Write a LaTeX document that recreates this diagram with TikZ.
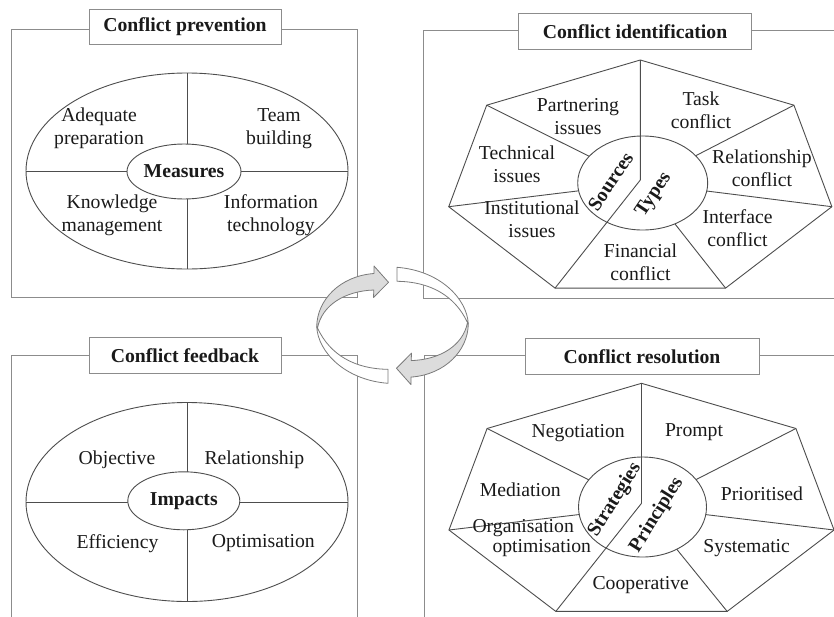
\documentclass[tikz,border=0pt]{standalone}
\usepackage{fontspec}
\setmainfont{Liberation Serif}
\usetikzlibrary{shapes.geometric}

\definecolor{ink}{HTML}{1A1A1A}
\definecolor{framecol}{HTML}{8C8C8C}
\definecolor{linecol}{HTML}{4D4D4D}
\definecolor{arrowedge}{HTML}{7A7A7A}
\definecolor{arrowfill}{HTML}{DCDCDC}
\newcommand{\panelfont}{\fontsize{19.7}{23}\selectfont}

\tikzset{
  panelframe/.style={draw=framecol, line width=1pt},
  titlebox/.style={draw=framecol, fill=white, line width=1pt, font=\panelfont\bfseries,
    text=ink, inner sep=0pt, minimum height=36pt},
  item/.style={font=\panelfont, align=center, text=ink, inner sep=0pt},
  hubtext/.style={font=\panelfont\bfseries, text=ink, inner sep=0pt},
  divider/.style={draw=linecol, line width=0.9pt},
  ring/.style={ellipse, draw=linecol, line width=0.9pt, inner sep=0pt, outer sep=0pt},
  hub/.style={ring, fill=white, font=\panelfont\bfseries, text=ink},
  loopwhite/.style={draw=arrowedge, fill=white, line width=0.8pt, line join=round},
  loopgray/.style={draw=arrowedge, fill=arrowfill, line width=0.8pt, line join=round},
}

\begin{document}
\begin{tikzpicture}[x=1pt, y=-1pt]
\useasboundingbox (0,0) rectangle (834,616);
\clip (0,0) rectangle (834,616);
\fill[white] (0,0) rectangle (834,616);

% ---------- Conflict prevention ----------
\draw[panelframe] (11.7,29) rectangle (357,297.5);
\node[titlebox, minimum width=192pt, minimum height=35pt] (prevTitle) at (185,26.7) {Conflict prevention};
\node[ring, minimum width=322pt, minimum height=196pt] (prevRing) at (187,171) {};
\draw[divider] (prevRing.north) -- (prevRing.south);
\draw[divider] (prevRing.west) -- (prevRing.east);
\node[hub, minimum width=112pt, minimum height=55pt] (measures) at (184,171.5) {Measures};
\node[item] (adequate) at (99,128.7) {Adequate\\preparation};
\node[item] (team) at (279,128.7) {Team\\building};
\node[item] (knowledge) at (112,215.3) {Knowledge\\management};
\node[item] (infotech) at (271,215.3) {Information\\technology};

% ---------- Conflict feedback ----------
\draw[panelframe] (11.7,355) rectangle (357.3,640);
\node[titlebox, minimum width=192pt] (feedTitle) at (185,355.3) {Conflict feedback};
\node[ring, minimum width=322pt, minimum height=199pt] (feedRing) at (187,502) {};
\draw[divider] (feedRing.north) -- (feedRing.south);
\draw[divider] (feedRing.west) -- (feedRing.east);
\node[hub, minimum width=112pt, minimum height=58pt] (impacts) at (183.8,500.8) {Impacts};
\node[item] (objective) at (117,460) {Objective};
\node[item] (relationshipB) at (254.3,460) {Relationship};
\node[item] (efficiency) at (117.5,543.3) {Efficiency};
\node[item] (optimisationB) at (263.3,543.3) {Optimisation};

% ---------- Conflict identification ----------
\draw[panelframe] (423.3,30) rectangle (850,298);
\node[titlebox, minimum width=233.4pt] (identTitle) at (635,31.3) {Conflict identification};
\foreach \k in {0,...,6}
  \coordinate (s\k) at ({640.3+196.5*cos(90-\k*360/7)}, {180-120*sin(90-\k*360/7)});
\coordinate (sBend) at (640.3,180);
\coordinate (sHub) at (642.7,183);
\draw[divider, line join=miter] (s0) -- (s1) -- (s2) -- (s3) -- (s4) -- (s5) -- (s6) -- cycle;
\foreach \k in {1,2,3,5,6} \draw[divider] (s\k) -- (sHub);
\node[hub, minimum width=130pt, minimum height=94pt] (typesHub) at (sHub) {};
\draw[divider] (s0) -- (sBend) -- (s4);
\node[hubtext, rotate=56] (sources) at (610.5,181.5) {Sources};
\node[hubtext, rotate=56] (types) at (654,195) {Types};
\node[item] (partnering) at (578,117) {Partnering\\issues};
\node[item] (task) at (701,110.5) {Task\\conflict};
\node[item] (technical) at (517,164.7) {Technical\\issues};
\node[item] (relationshipC) at (762,168.3) {Relationship\\conflict};
\node[item] (institutional) at (532,219.7) {Institutional\\issues};
\node[item] (interface) at (737.5,228) {Interface\\conflict};
\node[item] (financial) at (640.5,262.3) {Financial\\conflict};

% ---------- Conflict resolution ----------
\draw[panelframe] (424,355) rectangle (850,640);
\node[titlebox, minimum width=234pt] (resTitle) at (642,356.3) {Conflict resolution};
\foreach \k in {0,...,6}
  \coordinate (r\k) at ({641.5+197.5*cos(90-\k*360/7)}, {503.3-120*sin(90-\k*360/7)});
\coordinate (rBend) at (641.5,503.3);
\coordinate (rHub) at (642.5,507);
\draw[divider, line join=miter] (r0) -- (r1) -- (r2) -- (r3) -- (r4) -- (r5) -- (r6) -- cycle;
\foreach \k in {1,2,3,5,6} \draw[divider] (r\k) -- (rHub);
\node[hub, minimum width=128pt, minimum height=100pt] (principlesHub) at (rHub) {};
\draw[divider] (r0) -- (rBend) -- (r4);
\node[hubtext, rotate=58] (strategies) at (615,500) {Strategies};
\node[hubtext, rotate=58] (principles) at (656.7,515) {Principles};
\node[item] (negotiation) at (578.2,433.3) {Negotiation};
\node[item] (prompt) at (694,431.7) {Prompt};
\node[item] (mediation) at (520.3,490) {Mediation};
\node[item] (prioritised) at (762,493.3) {Prioritised};
\node[item, align=left, anchor=west, font=\fontsize{19.7}{20.7}\selectfont] (organisation)
  at (472.3,538) {Organisation\\\hspace*{20pt}optimisation};
\node[item] (systematic) at (746.7,548.3) {Systematic};
\node[item] (cooperative) at (640.7,585) {Cooperative};

% ---------- cycle symbol between the panels ----------
% upper-left half: white tail below, shaded head pointing right
\path[loopwhite] (316.7,326.7) .. controls (318,352) and (345,380) .. (388,383.3)
  -- (388,369.3) .. controls (355,369) and (330,355) .. (317.5,328) -- cycle;
\path[loopgray] (316.7,326.7) .. controls (317,300) and (340,276) .. (374,273.5)
  -- (374,266) -- (388.5,282.3) -- (373.5,297.5) -- (373.8,290)
  .. controls (345,291) and (322,305) .. (317.5,328) -- cycle;
% lower-right half: white tail above, shaded head pointing left
\path[loopwhite] (468.3,323.9) .. controls (467,298.6) and (440,270.6) .. (397,267.3)
  -- (397,281.3) .. controls (430,281.6) and (455,295.6) .. (467.5,322.6) -- cycle;
\path[loopgray] (468.3,323.9) .. controls (468,350.6) and (445,374.6) .. (411,377.1)
  -- (411,384.6) -- (396.5,368.3) -- (411.5,353.1) -- (411.2,360.6)
  .. controls (440,359.6) and (463,345.6) .. (467.5,322.6) -- cycle;
\end{tikzpicture}
\end{document}
